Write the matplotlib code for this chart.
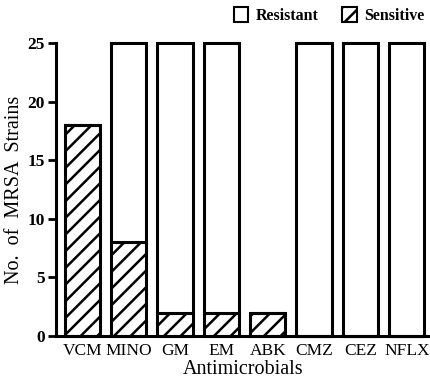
import numpy as np
import matplotlib
matplotlib.use("Agg")
import matplotlib.pyplot as plt
from matplotlib.patches import Patch

drugs = ["VCM", "MINO", "GM", "EM", "ABK", "CMZ", "CEZ", "NFLX"]
sensitive = [18, 8, 2, 2, 2, 0, 0, 0]
resistant = [0, 17, 23, 23, 0, 25, 25, 25]

plt.rcParams['font.family'] = ['Liberation Serif', 'DejaVu Serif']
plt.rcParams['hatch.linewidth'] = 1.8

fig = plt.figure(figsize=(4.3, 3.84), dpi=100)
ax = fig.add_axes([0.13, 0.125, 0.87, 0.763])

x = np.arange(len(drugs))
w = 0.76
ax.bar(x, sensitive, w, color="white", edgecolor="black", linewidth=2.2,
       hatch="//", clip_on=False)
ax.bar(x, resistant, w, bottom=sensitive, color="white", edgecolor="black",
       linewidth=2.2, clip_on=False)

ax.set_xlim(-0.57, 7.5)
ax.set_ylim(0, 25)
ax.set_yticks([0, 5, 10, 15, 20, 25])
ax.set_xticks(x)
ax.set_xticklabels(drugs, fontsize=12.5)
ax.tick_params(axis="y", labelsize=12.5, length=6, width=2, direction="out", pad=2)
ax.tick_params(axis="x", length=0, pad=5)
for lab in ax.get_yticklabels():
    lab.set_fontweight("bold")
for s in ["top", "right"]:
    ax.spines[s].set_visible(False)
ax.spines["left"].set_linewidth(2.2)
ax.spines["bottom"].set_linewidth(2.2)

ax.set_ylabel("No.  of  MRSA  Strains", fontsize=14.5)
ax.yaxis.set_label_coords(-0.085, 0.5)
ax.set_xlabel("Antimicrobials", fontsize=14.5, labelpad=1)

handles = [Patch(facecolor="white", edgecolor="black", linewidth=1.5, label="Resistant"),
           Patch(facecolor="white", edgecolor="black", linewidth=1.5, hatch="//", label="Sensitive")]
fig.legend(handles=handles, loc="upper right", bbox_to_anchor=(1.02, 1.02), ncol=2,
           frameon=False, handlelength=0.9, handleheight=1.1,
           handletextpad=0.45, columnspacing=1.5, prop={"weight": "bold", "size": 11.5})

fig.savefig("out.png", dpi=100)
